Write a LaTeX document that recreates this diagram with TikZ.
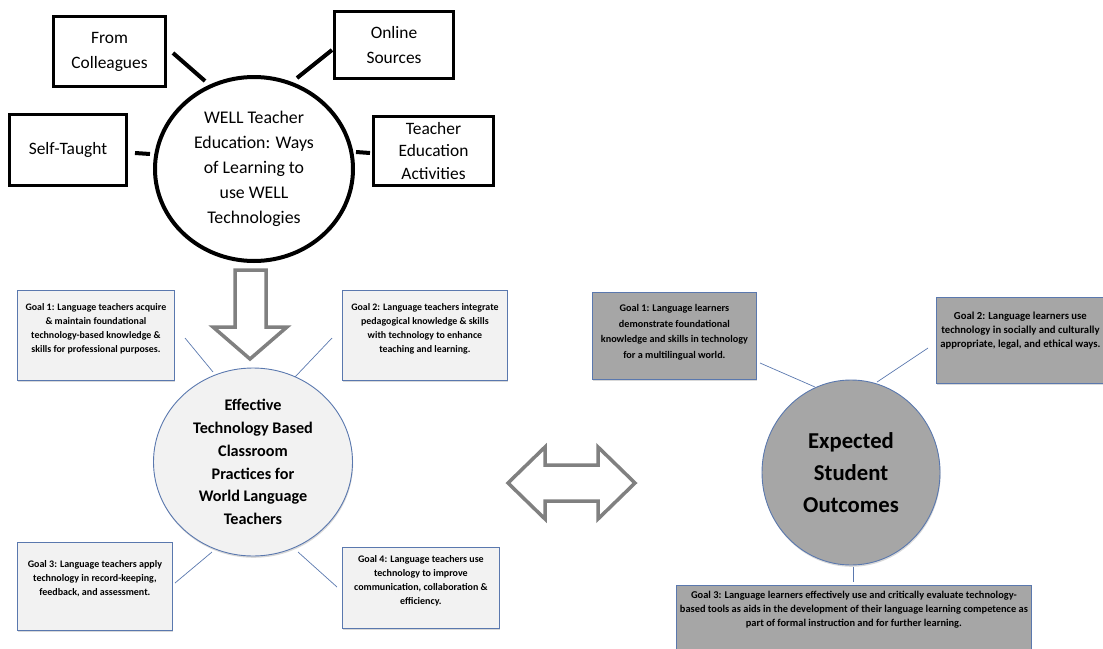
\documentclass[tikz,border=0pt]{standalone}
\usepackage{fontspec}
\setmainfont{Carlito}
\usetikzlibrary{shapes.geometric,shadows}
\definecolor{bline}{HTML}{5A78AE}
\definecolor{lfill}{HTML}{F2F2F2}
\definecolor{dfill}{HTML}{A6A6A6}
\definecolor{agray}{HTML}{808080}
\newcommand\gtxt[5]{\parbox[c][#2][t]{#1}{\centering\fontsize{#4}{14}\selectfont\vspace*{#3}#5\par}}
\begin{document}
\begin{tikzpicture}[x=1pt,y=-1pt,
  topbox/.style={draw=black,line width=3.5pt,fill=white,inner sep=0pt,align=center,
     font=\fontsize{17.4}{25}\selectfont},
  topcirc/.style={ellipse,draw=black,line width=4pt,fill=white,inner sep=0pt,align=center,
     font=\fontsize{17.8}{25}\selectfont},
  thickcon/.style={draw=black,line width=4pt},
  goalL/.style={draw=bline,line width=0.8pt,fill=lfill,inner sep=0pt,anchor=north west,
     drop shadow={shadow xshift=0.6pt,shadow yshift=-1.6pt,opacity=0.3},
     font=\bfseries},
  goalD/.style={goalL,fill=dfill},
  thincon/.style={draw=bline,line width=0.7pt},
  bigarrow/.style={draw=agray,line width=3.5pt,fill=white,line join=miter},
]
\useasboundingbox (0,0) rectangle (1103,648);

% ---------- top part ----------
\node[topcirc,minimum width=198pt,minimum height=184pt] (well) at (254,169)
  {WELL Teacher\\Education: Ways\\of Learning to\\use WELL\\Technologies};
\node[topbox,minimum width=112pt,minimum height=70pt] (coll) at (109.5,51.5) {From\\Colleagues};
\node[topbox,minimum width=119pt,minimum height=67pt] (online) at (394,45) {Online\\Sources};
\node[topbox,minimum width=117pt,minimum height=71pt] (self) at (68,150) {Self-Taught};
\node[topbox,minimum width=120pt,minimum height=69pt,font=\fontsize{17.4}{22.5}\selectfont] (teached) at (433.5,151) {Teacher\\Education\\Activities};

\coordinate (ca1) at (173,53);  \coordinate (ca2) at (205,81);
\coordinate (cb1) at (332,50);  \coordinate (cb2) at (297,78);
\coordinate (cc1) at (135,153); \coordinate (cc2) at (150,154);
\coordinate (cd1) at (356,152); \coordinate (cd2) at (370,153);
\draw[thickcon] (ca1) -- (ca2);
\draw[thickcon] (cb1) -- (cb2);
\draw[thickcon] (cc1) -- (cc2);
\draw[thickcon] (cd1) -- (cd2);

% down arrow
\draw[bigarrow] (235,270) -- (266,270) -- (266,327) -- (287,327) -- (250,359)
  -- (213,327) -- (235,327) -- cycle;

% ---------- left middle ----------
\node[ellipse,draw=bline,line width=0.9pt,fill=lfill,minimum width=199pt,minimum height=188pt,
  inner sep=0pt,align=center,drop shadow={shadow xshift=0.6pt,shadow yshift=-1.8pt,opacity=0.3},
  font=\bfseries\fontsize{16.2}{22.8}\selectfont] (mid) at (253,462)
  {Effective\\Technology Based\\Classroom\\Practices for\\World Language\\Teachers};

\node[goalL] (tg1) at (17,290) {\gtxt{157pt}{90pt}{13pt}{9.9}{Goal 1: Language teachers acquire\\ \& maintain foundational\\ technology-based knowledge \&\\ skills for professional purposes.}};
\node[goalL] (tg2) at (342,290) {\gtxt{165pt}{90pt}{13pt}{9.9}{Goal 2: Language teachers integrate\\ pedagogical knowledge \& skills\\ with technology to enhance\\ teaching and learning.}};
\node[goalL] (tg3) at (17,542) {\gtxt{155pt}{88pt}{18pt}{10}{Goal 3: Language teachers apply\\ technology in record-keeping,\\ feedback, and assessment.}};
\node[goalL] (tg4) at (342,547) {\gtxt{157pt}{81pt}{8pt}{10}{Goal 4: Language teachers use\\ technology to improve\\ communication, collaboration \&\\ efficiency.}};

\coordinate (l1a) at (185,338); \coordinate (l1b) at (213,372);
\coordinate (l2a) at (332,338); \coordinate (l2b) at (295,377);
\coordinate (l3a) at (175,583); \coordinate (l3b) at (212,552);
\coordinate (l4a) at (298,552); \coordinate (l4b) at (337,587);
\draw[thincon] (l1a) -- (l1b);
\draw[thincon] (l2a) -- (l2b);
\draw[thincon] (l3a) -- (l3b);
\draw[thincon] (l4a) -- (l4b);

% double arrow
\draw[bigarrow] (508,483) -- (545,447) -- (545,465) -- (598,465) -- (598,447) -- (635,483)
  -- (598,519) -- (598,501) -- (545,501) -- (545,519) -- cycle;

% ---------- right ----------
\node[ellipse,draw=bline,line width=0.9pt,fill=dfill,minimum width=178pt,minimum height=185pt,
  inner sep=0pt,align=center,drop shadow={shadow xshift=0.6pt,shadow yshift=-1.8pt,opacity=0.3},
  font=\bfseries\fontsize{22.7}{32}\selectfont] (out) at (851,472.5)
  {Expected\\Student\\Outcomes};

\node[goalD] (sg1) at (592,292) {\gtxt{164pt}{87pt}{12pt}{10.2}{\fontsize{10.2}{15.7}\selectfont Goal 1: Language learners\\ demonstrate foundational\\ knowledge and skills in technology\\ for a multilingual world.}};
\node[goalD] (sg2) at (936,297) {\gtxt{168pt}{86pt}{15pt}{10.7}{Goal 2: Language learners use\\ technology in socially and culturally\\ appropriate, legal, and ethical ways.}};
\node[goalD] (sg3) at (676,585) {\gtxt{355pt}{75pt}{6pt}{10.4}{Goal 3: Language learners effectively use and critically evaluate technology-\\ based tools as aids in the development of their language learning competence as\\ part of formal instruction and for further learning.}};

\coordinate (r1a) at (760,363); \coordinate (r1b) at (815,387);
\coordinate (r2a) at (928,348); \coordinate (r2b) at (877,382);
\coordinate (r3a) at (853,567); \coordinate (r3b) at (853,582);
\draw[thincon] (r1a) -- (r1b);
\draw[thincon] (r2a) -- (r2b);
\draw[thincon] (r3a) -- (r3b);
\end{tikzpicture}
\end{document}
